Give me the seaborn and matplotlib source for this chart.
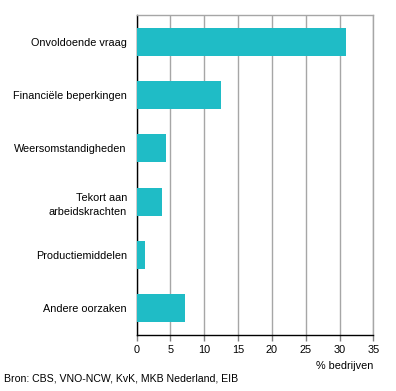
import seaborn as sns
import pandas as pd
import matplotlib.pyplot as plt

# Categories and values (% bedrijven)
categories = ["Onvoldoende vraag", "Financiële beperkingen", "Weersomstandigheden",
              "Tekort aan\narbeidskrachten", "Productiemiddelen", "Andere oorzaken"]
values = [31.0, 12.4, 4.3, 3.7, 1.2, 7.2]
x_ticks = [0, 5, 10, 15, 20, 25, 30, 35]

df = pd.DataFrame({"Oorzaak": categories, "Percentage": values})

sns.set_style("white")
plt.rcParams['font.family'] = ['Liberation Sans', 'DejaVu Sans']
plt.rcParams['text.color'] = 'black'

fig = plt.figure(figsize=(3.96, 3.91), dpi=100)
ax = fig.add_axes([0.345, 0.1432, 0.598, 0.8184])

sns.barplot(data=df, x="Percentage", y="Oorzaak", color="#1FBCC6", width=0.53,
            saturation=1, linewidth=0, ax=ax, zorder=3)

ax.set_xlim(0, 35)
ax.set_xticks(x_ticks)
ax.xaxis.grid(True, color="#a6a6a6", linewidth=1, zorder=0)
ax.set_axisbelow(True)
ax.set_xlabel("")
ax.set_ylabel("")

for side in ["top", "right"]:
    ax.spines[side].set_color("#a6a6a6")
    ax.spines[side].set_linewidth(1)
for side in ["left", "bottom"]:
    ax.spines[side].set_color("black")
    ax.spines[side].set_linewidth(1)

ax.tick_params(axis="x", length=4, width=1, color="#808080", labelsize=7.8, pad=3,
               direction="out", bottom=True, labelcolor="black")
ax.tick_params(axis="y", length=0, labelsize=7.8, pad=7, labelcolor="black")
for lbl in ax.get_yticklabels():
    lbl.set_horizontalalignment("right")
    lbl.set_multialignment("right")
    lbl.set_linespacing(1.6)

fig.text(0.943, 0.065, "% bedrijven", ha="right", va="center", fontsize=7.8)
fig.text(0.011, 0.033, "Bron: CBS, VNO-NCW, KvK, MKB Nederland, EIB", ha="left", va="center", fontsize=7.6)

plt.savefig("out.png", dpi=100)
